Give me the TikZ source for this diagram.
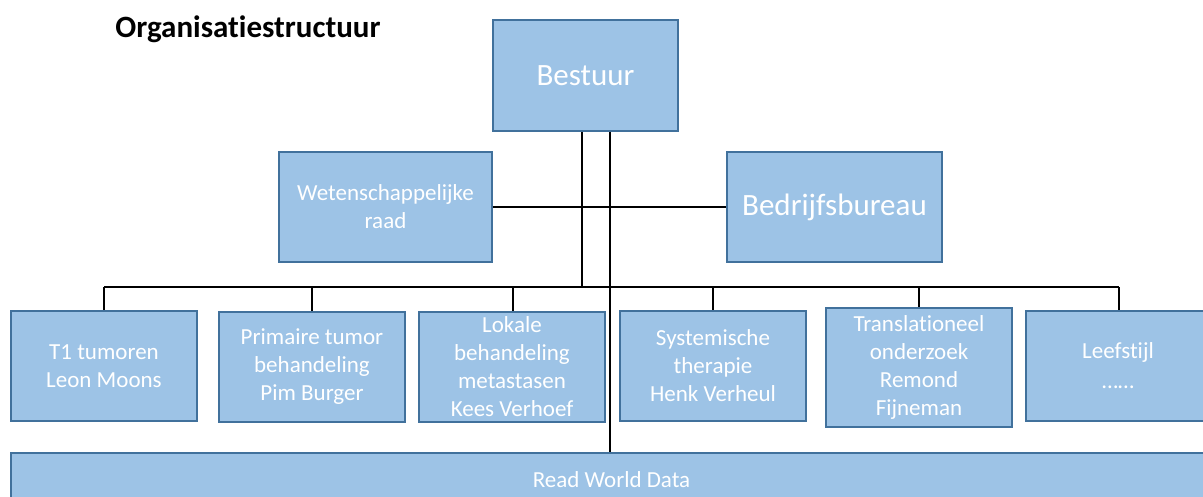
\documentclass[tikz,border=0pt]{standalone}
\usepackage{fontspec}
\setmainfont{Carlito}[Ligatures=NoCommon]
\definecolor{boxfill}{HTML}{9DC3E6}
\definecolor{boxline}{HTML}{41719C}
\begin{document}
\begin{tikzpicture}[x=1pt,y=-1pt,
  unit/.style={draw=boxline,line width=1.3pt,fill=boxfill,text=white,align=center,inner sep=0pt},
  conn/.style={draw=black,line width=1.8pt}]
\useasboundingbox (0,0) rectangle (1203,496);
\clip (0,0) rectangle (1203,496);
\node[font=\bfseries\fontsize{31}{36}\selectfont,anchor=center] (title) at (248,29) {Organisatiestructuur};
% boxes: defined by corners
\newcommand{\ubox}[7]{\node[unit,minimum width={#4-#2},minimum height={#5-#3},font=\fontsize{#6}{#7}\selectfont] (#1) at ({(#2+#4)/2},{(#3+#5)/2})}
\ubox{bestuur}{493}{20}{678}{131}{31}{36}{Bestuur};
\ubox{wet}{279}{152}{492}{262}{23}{28}{Wetenschappelijke\\raad};
\ubox{bedr}{727}{152}{942}{262}{31}{36}{Bedrijfsbureau};
\ubox{t1}{11}{311}{197}{421}{23}{28}{T1 tumoren\\Leon Moons};
\ubox{prim}{219}{312}{405}{422}{23}{28}{Primaire tumor\\behandeling\\Pim Burger};
\ubox{lok}{419}{312}{605}{422}{23}{28}{Lokale\\behandeling\\metastasen\\Kees Verhoef};
\ubox{sys}{620}{311}{806}{421}{23}{28}{Systemische\\therapie\\Henk Verheul};
\ubox{trans}{826}{308}{1012}{427}{23}{28}{Translationeel\\onderzoek\\Remond\\Fijneman};
\ubox{leef}{1026}{311}{1210}{421}{23}{30}{Leefstijl\\\ldots\ldots};
\ubox{rwd}{11}{453}{1212}{506}{23}{28}{Read World Data};
% connectors
\coordinate (busL) at (104,287);
\coordinate (busR) at (1119,287);
\coordinate (j1) at (582,287);
\draw[conn] (bestuur.south -| j1) -- (j1);
\draw[conn] (bestuur.south -| 610,0) -- (rwd.north -| 610,0);
\draw[conn] (wet.east) -- (bedr.west);
\draw[conn] (busL) -- (busR);
\foreach \n/\x in {t1/104,prim/312,lok/513,sys/713,trans/919,leef/1119}{
  \draw[conn] (\x,287) -- (\n.north -| \x,0);
}
\end{tikzpicture}
\end{document}
